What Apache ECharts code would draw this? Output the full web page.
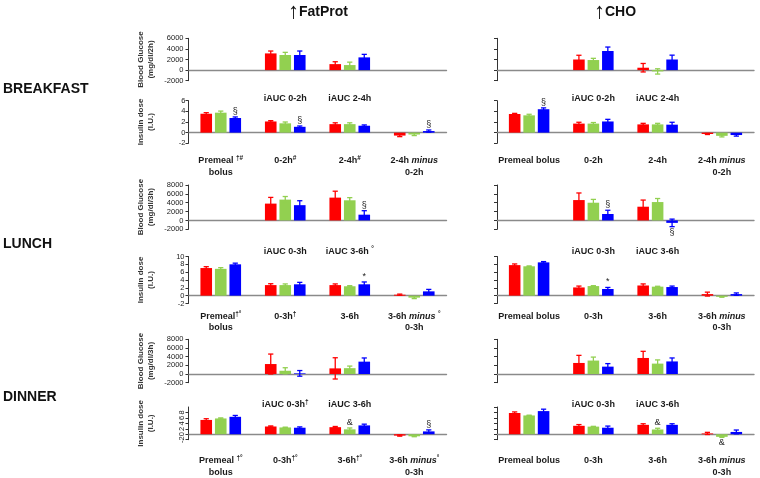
<!DOCTYPE html>
<html><head><meta charset="utf-8">
<script src="https://cdn.jsdelivr.net/npm/echarts/dist/echarts.min.js"></script>
<style>html,body{margin:0;padding:0;background:#fff}#c{width:760px;height:478px}</style>
</head><body><div id="c"></div>
<script>
// ---------- DATA ----------
const seriesColors = ['#ff0000', '#92d050', '#0000ff'];

// tick sets
const bgTicksB = [-2000, 0, 2000, 4000, 6000];
const bgTicksLD = [-2000, 0, 2000, 4000, 6000, 8000];
const insTicksB = [-2, 0, 2, 4, 6];
const insTicksLD = [-2, 0, 2, 4, 6, 8, 10];

// categories
const catBfBG = ['', 'iAUC 0-2h', 'iAUC 2-4h', ''];
const catBfFatIns = ['Premeal {s|†#}\nbolus', '0-2h{s|#}', '2-4h{s|#}', '2-4h {i|minus}\n0-2h'];
const catBfChoIns = ['Premeal bolus', '0-2h', '2-4h', '2-4h {i|minus}\n0-2h'];
const catLuFatBG = ['', 'iAUC 0-3h', 'iAUC 3-6h {s|°}', ''];
const catLuChoBG = ['', 'iAUC 0-3h', 'iAUC 3-6h', ''];
const catLuFatIns = ['Premeal{s|†°}\nbolus', '0-3h{s|†}', '3-6h', '3-6h {i|minus} {s|°}\n0-3h'];
const catChoIns3 = ['Premeal bolus', '0-3h', '3-6h', '3-6h {i|minus}\n0-3h'];
const catDiFatBG = ['', 'iAUC 0-3h{s|†}', 'iAUC 3-6h', ''];
const catDiChoBG = ['', 'iAUC 0-3h', 'iAUC 3-6h', ''];
const catDiFatIns = ['Premeal {s|†°}\nbolus', '0-3h{s|†°}', '3-6h{s|†°}', '3-6h {i|minus}{s|°}\n0-3h'];

// values [red, green, blue] and SEM
const bfFatBG_val = [[null, 3150, 1130, null], [null, 2850, 950, null], [null, 2850, 2400, null]];
const bfFatBG_err = [[null, 450, 450, null], [null, 500, 550, null], [null, 750, 570, null]];
const bfFatIns_val = [[3.55, 2.1, 1.6, -0.55], [3.75, 1.75, 1.6, -0.35], [2.75, 1.1, 1.3, 0.3]];
const bfFatIns_err = [[0.2, 0.15, 0.25, 0.2], [0.3, 0.25, 0.25, 0.2], [0.2, 0.15, 0.15, 0.2]];
const bfChoBG_val = [[null, 2000, 450, null], [null, 1900, -250, null], [null, 3600, 2000, null]];
const bfChoBG_err = [[null, 800, 800, null], [null, 320, 500, null], [null, 750, 820, null]];
const bfChoIns_val = [[3.5, 1.7, 1.55, -0.25], [3.25, 1.7, 1.55, -0.6], [4.4, 2.1, 1.5, -0.45]];
const bfChoIns_err = [[0.12, 0.25, 0.2, 0.1], [0.2, 0.2, 0.2, 0.2], [0.25, 0.4, 0.45, 0.2]];

const luFatBG_val = [[null, 3800, 5150, null], [null, 4700, 4550, null], [null, 3450, 1300, null]];
const luFatBG_err = [[null, 1400, 1450, null], [null, 700, 600, null], [null, 1000, 900, null]];
const luFatIns_val = [[7.05, 2.7, 2.7, 0.25], [6.85, 2.7, 2.4, -0.5], [8.0, 2.9, 2.9, 1.1]];
const luFatIns_err = [[0.35, 0.35, 0.3, 0.15], [0.3, 0.3, 0.15, 0.25], [0.3, 0.5, 0.6, 0.5]];
const luChoBG_val = [[null, 4600, 3100, null], [null, 4000, 4150, null], [null, 1450, -550, null]];
const luChoBG_err = [[null, 1600, 1500, null], [null, 750, 800, null], [null, 850, 850, null]];
const luChoIns_val = [[7.8, 2.1, 2.6, 0.4], [7.5, 2.45, 2.3, -0.3], [8.5, 1.7, 2.2, 0.4]];
const luChoIns_err = [[0.3, 0.35, 0.4, 0.5], [0.1, 0.1, 0.1, 0.1], [0.2, 0.4, 0.25, 0.3]];

const diFatBG_val = [[null, 2300, 1300, null], [null, 750, 1350, null], [null, 150, 2850, null]];
const diFatBG_err = [[null, 2300, 2450, null], [null, 700, 480, null], [null, 650, 850, null]];
const diFatIns_val = [[5.25, 2.85, 2.6, -0.5], [5.8, 2.5, 1.8, -0.75], [6.4, 2.4, 3.25, 1.05]];
const diFatIns_err = [[0.45, 0.2, 0.25, 0.2], [0.2, 0.1, 0.5, 0.15], [0.5, 0.3, 0.45, 0.55]];
const diChoBG_val = [[null, 2550, 3700, null], [null, 3100, 2400, null], [null, 1700, 2900, null]];
const diChoBG_err = [[null, 1750, 1530, null], [null, 800, 850, null], [null, 700, 800, null]];
const diChoIns_val = [[7.8, 3.1, 3.45, 0.3], [6.9, 2.8, 1.75, -0.95], [8.5, 2.4, 3.45, 0.85]];
const diChoIns_err = [[0.4, 0.45, 0.4, 0.4], [0.1, 0.1, 0.45, 0.2], [0.7, 0.6, 0.4, 0.7]];

// significance marks: [category, series, symbol, direction(1 up / -1 down)]
const bfFatIns_notes = [[0, 2, '§', 1], [1, 2, '§', 1], [3, 2, '§', 1]];
const bfChoIns_notes = [[0, 2, '§', 1]];
const luFatBG_notes = [[2, 2, '§', 1]];
const luFatIns_notes = [[2, 2, '*', 1]];
const luChoBG_notes = [[1, 2, '§', 1], [2, 2, '§', -1]];
const luChoIns_notes = [[1, 2, '*', 1]];
const diFatIns_notes = [[2, 1, '&', 1], [3, 2, '§', 1]];
const diChoIns_notes = [[2, 1, '&', 1], [3, 1, '&', -1]];

// ---------- LAYOUT ----------
const FONT = 'Liberation Sans, Arial, sans-serif';
const BW = 0.18, GAP = 0.25;
const colX = [{left: 188.5, width: 258}, {left: 497, width: 257}];
const rowLay = {
  bfBG:  {top: 38.3,  h: 42.4, lm: 12.5, ym: 5},
  bfIns: {top: 100.7, h: 42.6, lm: 11.6, ym: 3},
  luBG:  {top: 185,   h: 44.3, lm: 16.3, ym: 5},
  luIns: {top: 256.5, h: 47,   lm: 7.1,  ym: 4},
  diBG:  {top: 339.3, h: 43.4, lm: 16,   ym: 5},
  diIns: {top: 407,   h: 39.3, lm: 15.3, ym: 3, rot: 90}
};
const panels = [
  {row: 'bfBG', col: 0, cats: catBfBG, vals: bfFatBG_val, errs: bfFatBG_err, ticks: bgTicksB, notes: [], yname: 'Blood Glucose\n(mg/dl/2h)'},
  {row: 'bfIns', col: 0, cats: catBfFatIns, vals: bfFatIns_val, errs: bfFatIns_err, ticks: insTicksB, notes: bfFatIns_notes, yname: 'Insulin dose\n(I.U.)'},
  {row: 'bfBG', col: 1, cats: catBfBG, vals: bfChoBG_val, errs: bfChoBG_err, ticks: bgTicksB, notes: []},
  {row: 'bfIns', col: 1, cats: catBfChoIns, vals: bfChoIns_val, errs: bfChoIns_err, ticks: insTicksB, notes: bfChoIns_notes},
  {row: 'luBG', col: 0, cats: catLuFatBG, vals: luFatBG_val, errs: luFatBG_err, ticks: bgTicksLD, notes: luFatBG_notes, yname: 'Blood Glucose\n(mg/dl/3h)'},
  {row: 'luIns', col: 0, cats: catLuFatIns, vals: luFatIns_val, errs: luFatIns_err, ticks: insTicksLD, notes: luFatIns_notes, yname: 'Insulin dose\n(I.U.)'},
  {row: 'luBG', col: 1, cats: catLuChoBG, vals: luChoBG_val, errs: luChoBG_err, ticks: bgTicksLD, notes: luChoBG_notes},
  {row: 'luIns', col: 1, cats: catChoIns3, vals: luChoIns_val, errs: luChoIns_err, ticks: insTicksLD, notes: luChoIns_notes},
  {row: 'diBG', col: 0, cats: catDiFatBG, vals: diFatBG_val, errs: diFatBG_err, ticks: bgTicksLD, notes: [], yname: 'Blood Glucose\n(mg/dl/3h)'},
  {row: 'diIns', col: 0, cats: catDiFatIns, vals: diFatIns_val, errs: diFatIns_err, ticks: insTicksLD, notes: diFatIns_notes, yname: 'Insulin dose\n(I.U.)'},
  {row: 'diBG', col: 1, cats: catDiChoBG, vals: diChoBG_val, errs: diChoBG_err, ticks: bgTicksLD, notes: []},
  {row: 'diIns', col: 1, cats: catChoIns3, vals: diChoIns_val, errs: diChoIns_err, ticks: insTicksLD, notes: diChoIns_notes}
];

const grid = [], xAxis = [], yAxis = [], series = [];
const labelRich = {
  s: {fontSize: 6.5, fontWeight: 'bold', verticalAlign: 'top', lineHeight: 11.5, color: '#1a1a1a', fontFamily: FONT},
  i: {fontSize: 9, fontWeight: 'bold', fontStyle: 'italic', lineHeight: 11.5, color: '#1a1a1a', fontFamily: FONT}
};

panels.forEach((p, k) => {
  const L = rowLay[p.row], C = colX[p.col];
  grid.push({left: C.left, width: C.width, top: L.top, height: L.h, containLabel: false});
  xAxis.push({
    type: 'category', gridIndex: k, data: p.cats,
    axisLine: {show: true, onZero: true, lineStyle: {color: '#8a8a8a', width: 1.4}},
    axisTick: {show: false},
    axisLabel: {interval: 0, margin: L.lm, fontSize: 9, fontWeight: 'bold', color: '#1a1a1a',
      fontFamily: FONT, lineHeight: 11.5, rich: labelRich}
  });
  const t = p.ticks;
  yAxis.push({
    type: 'value', gridIndex: k, min: t[0], max: t[t.length - 1], interval: t[1] - t[0],
    axisLine: {show: true, onZero: false, lineStyle: {color: '#333', width: 1}},
    axisTick: {show: true, length: 3, lineStyle: {color: '#333'}},
    splitLine: {show: false},
    axisLabel: {show: p.col === 0, fontSize: 7.5, color: '#222', margin: L.ym, fontFamily: FONT,
      rotate: L.rot || 0, formatter: v => String(v)},
    name: p.yname || '', nameLocation: 'middle', nameRotate: 90, nameGap: 33,
    nameTextStyle: {fontSize: 8, lineHeight: 9.5, color: '#333', fontFamily: FONT, fontWeight: 'bold'}
  });
  for (let s = 0; s < 3; s++) {
    series.push({
      type: 'bar', xAxisIndex: k, yAxisIndex: k, data: p.vals[s],
      barWidth: (BW * 100) + '%', barGap: (GAP * 100) + '%',
      itemStyle: {color: seriesColors[s]}, silent: true
    });
  }
  const eData = [];
  for (let s = 0; s < 3; s++) for (let c = 0; c < 4; c++) {
    if (p.vals[s][c] !== null) eData.push([c, p.vals[s][c], p.errs[s][c], s]);
  }
  series.push({
    type: 'custom', xAxisIndex: k, yAxisIndex: k, data: eData, clip: false, silent: true, z: 3,
    encode: {x: 0, y: 1},
    renderItem: (params, api) => {
      const c = api.value(0), v = api.value(1), e = api.value(2), s = api.value(3);
      const band = api.size([1, 0])[0];
      const off = (s - 1) * band * BW * (1 + GAP);
      const hi = api.coord([c, v + e]), lo = api.coord([c, v - e]);
      const x = hi[0] + off, cw = 2.6;
      const st = {stroke: seriesColors[s], lineWidth: 1.3};
      return {type: 'group', children: [
        {type: 'line', shape: {x1: x, y1: hi[1], x2: x, y2: lo[1]}, style: st},
        {type: 'line', shape: {x1: x - cw, y1: hi[1], x2: x + cw, y2: hi[1]}, style: st},
        {type: 'line', shape: {x1: x - cw, y1: lo[1], x2: x + cw, y2: lo[1]}, style: st}
      ]};
    }
  });
  if (p.notes.length) {
    series.push({
      type: 'custom', xAxisIndex: k, yAxisIndex: k, clip: false, silent: true, z: 4,
      data: p.notes.map(n => [n[0], 0]), encode: {x: 0, y: 1},
      renderItem: (params, api) => {
        const [c, s, txt, dir] = p.notes[params.dataIndex];
        const v = p.vals[s][c], e = p.errs[s][c];
        const band = api.size([1, 0])[0];
        const off = (s - 1) * band * BW * (1 + GAP);
        const pt = api.coord([c, dir > 0 ? v + e : v - e]);
        return {type: 'text', x: pt[0] + off, y: pt[1] + (dir > 0 ? -1 : 1),
          style: {text: txt, align: 'center', verticalAlign: dir > 0 ? 'bottom' : 'top',
            fontSize: 9, fontFamily: FONT, fill: '#222'}};
      }
    });
  }
});

const headRich = {
  a: {fontSize: 22, fontWeight: 'normal', color: '#111', fontFamily: FONT},
  b: {fontSize: 14, fontWeight: 'bold', color: '#111', fontFamily: FONT}
};
const option = {
  animation: false,
  title: [
    {text: '{a|↑}{b|FatProt}', left: 288, top: 1, padding: 0, textStyle: {rich: headRich}},
    {text: '{a|↑}{b|CHO}', left: 594, top: 1, padding: 0, textStyle: {rich: headRich}}
  ],
  graphic: [
    {type: 'text', left: 3, top: 82, style: {text: 'BREAKFAST', font: 'bold 14px Liberation Sans, Arial', fill: '#111'}},
    {type: 'text', left: 3, top: 237, style: {text: 'LUNCH', font: 'bold 14px Liberation Sans, Arial', fill: '#111'}},
    {type: 'text', left: 3, top: 390, style: {text: 'DINNER', font: 'bold 14px Liberation Sans, Arial', fill: '#111'}}
  ],
  grid, xAxis, yAxis, series
};
const chart = echarts.init(document.getElementById('c'), null, {renderer: 'canvas'});
chart.setOption(option);
</script></body></html>
